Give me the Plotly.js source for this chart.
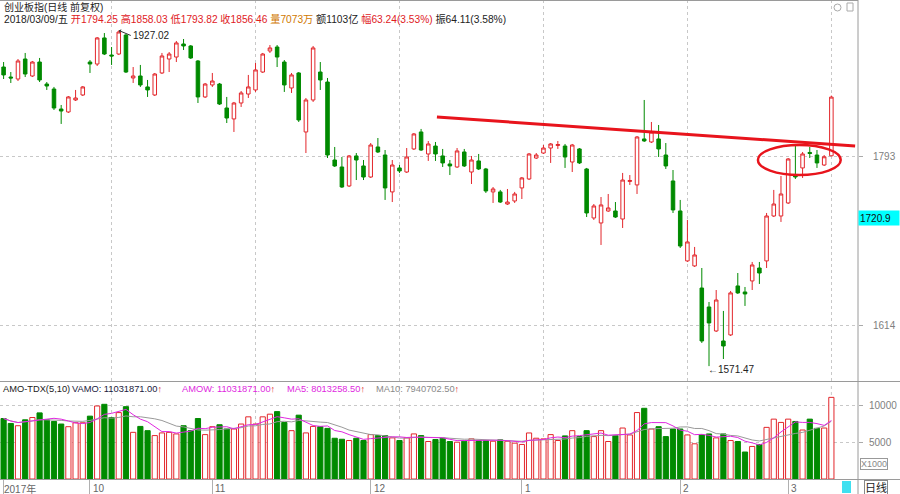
<!DOCTYPE html>
<html><head><meta charset="utf-8">
<script src="https://cdn.plot.ly/plotly-3.0.1.min.js"></script>
<style>html,body{margin:0;padding:0;background:#fff}#chart{width:900px;height:494px}</style>
</head><body><div id="chart"></div>
<script>
// Daily candles, 2017-09 .. 2018-03-09 (创业板指)
const openP = [1888.3,1877.7,1875.6,1896.8,1878.8,1893.6,1870.3,1865.0,1843.8,1840.7,
1853.4,1858.7,1893.6,1891.5,1919.1,1901.0,1902.1,1922.2,1876.7,1878.8,
1867.2,1858.7,1882.0,1896.8,1898.9,1912.7,1910.6,1894.7,1856.6,1869.3,
1870.3,1844.9,1833.3,1850.2,1859.7,1864.0,1883.0,1905.3,1909.5,1893.6,
1866.1,1882.0,1819.5,1853.4,1883.0,1872.4,1789.8,1782.4,1762.3,1794.1,
1783.5,1771.8,1803.6,1795.1,1756.0,1781.4,1777.1,1801.5,1819.5,1796.2,
1804.6,1794.1,1785.6,1782.4,1798.3,1777.1,1788.8,1780.3,1756.0,1756.0,
1743.2,1746.4,1760.2,1769.7,1791.9,1797.2,1802.5,1805.2,1804.6,1787.7,
1801.5,1780.3,1728.4,1723.1,1735.8,1735.8,1727.3,1767.1,1763.4,1812.1,
1808.9,1812.1,1795.1,1767.6,1735.8,1682.9,1677.6,1654.2,1634.1,1608.7,
1598.1,1604.5,1656.4,1650.0,1661.7,1675.4,1682.9,1730.5,1730.5,1744.3,
1773.9,1781.4,1797.8,1795.1,1784.5,1794.25];
const highP = [1893.6,1883.0,1896.8,1903.2,1894.7,1897.9,1872.4,1867.2,1848.1,1857.6,
1864.0,1868.2,1895.7,1920.1,1924.3,1909.5,1927.02,1923.3,1888.3,1890.5,
1874.6,1882.0,1903.2,1904.2,1915.9,1918.0,1911.6,1895.7,1871.4,1882.0,
1871.4,1856.6,1851.3,1862.9,1879.9,1892.6,1903.2,1911.6,1911.6,1895.7,
1882.0,1883.0,1855.5,1910.6,1893.6,1876.7,1803.6,1793.0,1795.1,1797.2,
1789.8,1807.8,1813.1,1800.4,1789.8,1784.5,1802.5,1818.4,1822.7,1809.9,
1808.9,1801.5,1789.8,1802.5,1801.5,1794.1,1796.2,1781.4,1761.2,1758.1,
1759.1,1756.0,1771.8,1797.2,1797.2,1805.7,1807.8,1809.9,1806.8,1806.8,
1802.5,1781.4,1743.2,1750.6,1753.8,1745.3,1776.1,1773.9,1815.2,1853.4,
1830.1,1826.9,1807.8,1779.2,1747.5,1726.3,1697.7,1675.4,1639.4,1652.1,
1629.9,1651.1,1670.1,1655.3,1681.8,1681.8,1733.7,1758.1,1772.9,1791.9,
1804.6,1798.3,1803.6,1800.4,1795.1,1858.03];
const lowP = [1875.6,1871.4,1873.5,1877.7,1877.7,1872.4,1864.0,1842.8,1828.0,1839.6,
1852.3,1857.6,1882.0,1889.4,1901.0,1890.5,1901.0,1882.0,1871.4,1867.2,
1856.6,1857.6,1880.9,1883.0,1893.6,1906.3,1896.8,1850.2,1855.5,1867.2,
1848.1,1829.0,1819.5,1846.0,1855.5,1861.9,1882.0,1903.2,1888.3,1861.9,
1860.8,1830.1,1797.2,1851.3,1864.0,1791.9,1782.4,1760.2,1761.2,1768.6,
1768.6,1770.8,1797.2,1747.5,1745.3,1776.1,1776.1,1800.4,1799.4,1788.8,
1788.8,1782.4,1773.9,1781.4,1782.4,1764.4,1779.2,1754.9,1744.3,1744.3,
1742.2,1744.3,1748.5,1768.6,1790.9,1796.2,1786.7,1801.5,1781.4,1777.1,
1785.6,1729.4,1726.3,1699.8,1734.8,1728.4,1717.8,1763.4,1753.8,1808.9,
1807.8,1793.0,1780.3,1733.7,1696.6,1681.8,1676.5,1596.0,1571.47,1607.6,
1579.0,1603.4,1647.9,1635.2,1652.1,1658.5,1675.4,1729.4,1724.2,1743.2,
1769.7,1770.8,1791.9,1781.4,1783.5,1793.82];
const closeP = [1879.9,1876.7,1894.7,1880.9,1893.6,1874.6,1868.2,1844.9,1841.7,1856.6,
1855.5,1867.2,1891.5,1919.1,1902.1,1900.0,1925.4,1883.0,1878.8,1869.3,
1864.0,1880.9,1900.0,1902.1,1913.8,1910.6,1897.9,1856.6,1870.3,1873.5,
1849.1,1834.3,1850.2,1860.8,1867.2,1885.2,1902.1,1908.5,1898.9,1869.3,
1879.9,1832.2,1853.4,1908.5,1874.6,1795.1,1783.5,1761.2,1794.1,1789.8,
1771.8,1805.7,1798.3,1760.2,1784.5,1778.2,1793.0,1817.4,1800.4,1806.8,
1796.2,1786.7,1783.5,1799.4,1783.5,1789.8,1780.3,1757.0,1759.1,1745.3,
1745.3,1753.8,1770.8,1796.2,1795.1,1802.5,1806.8,1806.2,1793.0,1805.7,
1786.7,1733.7,1741.1,1742.2,1739.0,1729.4,1768.6,1768.1,1814.2,1810.0,
1819.5,1801.5,1783.5,1736.9,1698.7,1703.0,1689.2,1598.1,1617.2,1641.5,
1592.8,1649.0,1649.0,1647.9,1678.6,1670.1,1730.5,1743.2,1753.8,1790.9,
1771.8,1796.2,1796.7,1786.7,1793.22,1856.46];
// Turnover (AMO), units of 1000 x 万元
const amount = [8173,7507,7200,8000,8307,8933,8000,7773,7427,7067,
7600,7600,8493,9867,10093,8307,8973,9773,6307,7107,
6533,5867,6227,6307,6093,7200,6533,8173,6000,7067,
7333,6760,6760,7427,8400,7427,8400,8760,9107,7640,
6533,8627,6227,7107,7067,6840,5507,5373,5200,5507,
5200,6000,5867,5867,5556,5200,5556,6093,5867,5067,
5333,5507,5067,4973,5107,5422,5200,5200,5107,5289,
5107,4844,4667,6222,5511,5422,6000,5200,5822,6533,
5733,6533,5733,6533,5067,5867,6889,5956,8978,9556,
6756,7067,5733,6756,6756,5956,4756,5956,6089,5556,
6089,5200,5067,3644,4400,4667,6978,8089,7644,8089,
7778,6622,8089,6844,6889,11032];
const monthTickIdx = [0,12,29,51,72,94,109];
const monthTickText = ['2017年','10','11','12','1','2','3'];
const gridIdx = [15,35,55,75,95,115];
const priceTicks = [1614,1793];
const volTicks = [5000,10000];

const idx = openP.map((_, i) => i);
const RED = '#e3262b', GREEN = '#008a00';
const up = closeP.map((c, i) => c >= openP[i]);
function ma(arr, n) {
  return arr.map((_, i) => { const s = Math.max(0, i - n + 1); let t = 0; for (let k = s; k <= i; k++) t += arr[k]; return t / (i - s + 1); });
}
const FONT = 'Arial, "Liberation Sans", "Noto Sans CJK SC", sans-serif';

const traces = [
  {type:'candlestick', x:idx, open:openP, high:highP, low:lowP, close:closeP, xaxis:'x', yaxis:'y',
   increasing:{line:{color:RED,width:1}, fillcolor:'#ffffff'},
   decreasing:{line:{color:GREEN,width:1}, fillcolor:GREEN},
   whiskerwidth:0, hoverinfo:'skip', showlegend:false},
  {type:'bar', x:idx, y:amount, xaxis:'x2', yaxis:'y2', width:0.72,
   marker:{color:up.map(u => u ? '#ffffff' : GREEN), line:{color:up.map(u => u ? RED : GREEN), width:1}},
   hoverinfo:'skip', showlegend:false},
  {type:'scatter', mode:'lines', x:idx, y:ma(amount,10), xaxis:'x2', yaxis:'y2', line:{color:'#9a9a9a', width:1}, hoverinfo:'skip', showlegend:false},
  {type:'scatter', mode:'lines', x:idx, y:ma(amount,5), xaxis:'x2', yaxis:'y2', line:{color:'#e028e0', width:1}, hoverinfo:'skip', showlegend:false}
];

const PH = 479; // plot height px
const py = v => (PH - v) / PH; // pixel row -> paper y
const px = v => v / 858;       // pixel col -> paper x

const shapes = [];
gridIdx.forEach(g => {
  shapes.push({type:'line', xref:'x2', yref:'y2 domain', x0:g, x1:g, y0:0, y1:1, line:{color:'#c8c8c8', width:1, dash:'dot'}, layer:'below'});
});
// frame lines
shapes.push({type:'line', xref:'paper', yref:'paper', x0:0, x1:1, y0:1, y1:1, line:{color:'#9a9a9a', width:2}});
shapes.push({type:'line', xref:'paper', yref:'paper', x0:1, x1:1, y0:py(494), y1:1, line:{color:'#9a9a9a', width:1}});
shapes.push({type:'line', xref:'paper', yref:'paper', x0:0, x1:px(900), y0:py(381.5), y1:py(381.5), line:{color:'#9a9a9a', width:1}});
shapes.push({type:'line', xref:'paper', yref:'paper', x0:0, x1:px(900), y0:py(479.5), y1:py(479.5), line:{color:'#9a9a9a', width:1}});
// trend line and ellipse (hand drawn marks on the chart)
shapes.push({type:'line', xref:'x', yref:'y', x0:60.2, y0:1835.4, x1:118.3, y1:1804.6, line:{color:'#e8141c', width:3}});
shapes.push({type:'circle', xref:'x', yref:'y', x0:104.8, x1:116.3, y0:1773.9, y1:1805.7, line:{color:'#e8141c', width:2.5}});
// top-right icons
shapes.push({type:'circle', xref:'paper', yref:'paper', x0:px(834), x1:px(841), y0:py(11), y1:py(4), line:{color:'#aaaaaa', width:1}});
shapes.push({type:'rect', xref:'paper', yref:'paper', x0:px(847), x1:px(853), y0:py(11), y1:py(3), line:{color:'#aaaaaa', width:1}});
// small cyan box in bottom strip
shapes.push({type:'rect', xref:'paper', yref:'paper', x0:px(842), x1:px(851), y0:py(493), y1:py(481), fillcolor:'#3fe0f0', line:{width:0}});

const annotations = [];
annotations.push({xref:'paper', yref:'paper', x:px(2), y:py(7), xanchor:'left', yanchor:'middle', showarrow:false,
  text:'创业板指(日线 前复权)', font:{family:FONT, size:10, color:'#222'}});
annotations.push({xref:'paper', yref:'paper', x:px(2), y:py(19), xanchor:'left', yanchor:'middle', showarrow:false,
  text:'2018/03/09/五 <span style="color:#e0201e">开1794.25 高1858.03 低1793.82 收1856.46</span> <span style="color:#d07800">量7073万</span> 额1103亿 <span style="color:#e0201e">幅63.24(3.53%)</span> 振64.11(3.58%)',
  font:{family:FONT, size:10.2, color:'#222'}});
// extreme labels
annotations.push({xref:'x', yref:'y', x:16, y:1927.02, ax:12, ay:5, xanchor:'left', yanchor:'middle', showarrow:true,
  arrowhead:1, arrowsize:0.7, arrowwidth:1, arrowcolor:'#333', text:'1927.02', font:{family:FONT, size:10, color:'#222'}});
annotations.push({xref:'x', yref:'y', x:98, y:1571.47, xanchor:'left', yanchor:'middle', showarrow:false, xshift:-3, yshift:-3,
  text:'←1571.47', font:{family:FONT, size:10, color:'#222'}});
// cursor price label
annotations.push({xref:'paper', yref:'y', x:1, y:1720.9, yshift:7, xanchor:'left', yanchor:'middle', showarrow:false,
  text:'1720.9', bgcolor:'#00ffff', width:38, height:12, align:'left', font:{family:FONT, size:10, color:'#111'}});
// volume header
const volHead = [
  [1, 'AMO-TDX(5,10)', '#222'],
  [70, 'VAMO: 11031871.00<span style="color:#e0201e">↑</span>', '#1a1a40'],
  [180, 'AMOW: 11031871.00<span style="color:#e0201e">↑</span>', '#e028e0'],
  [285, 'MA5: 8013258.50<span style="color:#e0201e">↑</span>', '#e028e0'],
  [374, 'MA10: 7940702.50<span style="color:#e0201e">↑</span>', '#8a8a8a']
];
volHead.forEach(h => annotations.push({xref:'paper', yref:'paper', x:px(h[0]), y:py(389), xanchor:'left', yanchor:'middle', showarrow:false,
  text:h[1], font:{family:FONT, size:9.3, color:h[2]}}));
// x labels
monthTickIdx.forEach((m, i) => annotations.push({xref:'x2', yref:'paper', x:m, y:0, xanchor:'left', yanchor:'top', xshift:(i === 0 ? -2 : 1), yshift:-2,
  showarrow:false, text:monthTickText[i], font:{family:FONT, size:10, color:'#666'}}));
annotations.push({xref:'paper', yref:'paper', x:px(876), y:py(487), xanchor:'center', yanchor:'middle', showarrow:false,
  text:'日线', bordercolor:'#888', borderwidth:1, borderpad:0, font:{family:FONT, size:11, color:'#222'}});
annotations.push({xref:'paper', yref:'paper', x:px(874), y:py(464), xanchor:'center', yanchor:'middle', showarrow:false,
  text:'X1000', bordercolor:'#999', borderwidth:1, borderpad:0, font:{family:FONT, size:9, color:'#888'}});

const layout = {
  width:900, height:494, margin:{l:0, r:42, t:0, b:15}, paper_bgcolor:'#fff', plot_bgcolor:'#fff',
  showlegend:false, dragmode:false, hovermode:false,
  xaxis:{domain:[0,1], range:[-0.5,118.7], anchor:'y', rangeslider:{visible:false}, showticklabels:false, ticks:'',
    tickvals:gridIdx, showgrid:true, gridcolor:'#c8c8c8', griddash:'dot', zeroline:false, showline:false, fixedrange:true},
  yaxis:{domain:[py(381),1], range:[1555.7,1959.3], side:'right', anchor:'x', tickvals:priceTicks, ticktext:priceTicks.map(String),
    ticks:'outside', ticklen:4, tickcolor:'#aaa', ticklabelstandoff:8, showgrid:true, gridcolor:'#c8c8c8', griddash:'dot', zeroline:false,
    showline:false, tickfont:{family:FONT, size:10, color:'#808080'}, fixedrange:true},
  xaxis2:{domain:[0,1], range:[-0.5,118.7], anchor:'y2', tickvals:monthTickIdx, showticklabels:false, ticks:'outside', ticklen:14,
    tickcolor:'#b0b0b0', showgrid:false, zeroline:false, showline:false, fixedrange:true},
  yaxis2:{domain:[0,py(383)], range:[0,12973], side:'right', anchor:'x2', tickvals:volTicks, ticktext:volTicks.map(String),
    ticks:'outside', ticklen:4, tickcolor:'#aaa', ticklabelstandoff:4, showgrid:true, gridcolor:'#c8c8c8', griddash:'dot', zeroline:false,
    showline:false, tickfont:{family:FONT, size:10, color:'#808080'}, fixedrange:true},
  shapes:shapes, annotations:annotations
};
Plotly.newPlot('chart', traces, layout, {displayModeBar:false, staticPlot:true});
</script></body></html>
